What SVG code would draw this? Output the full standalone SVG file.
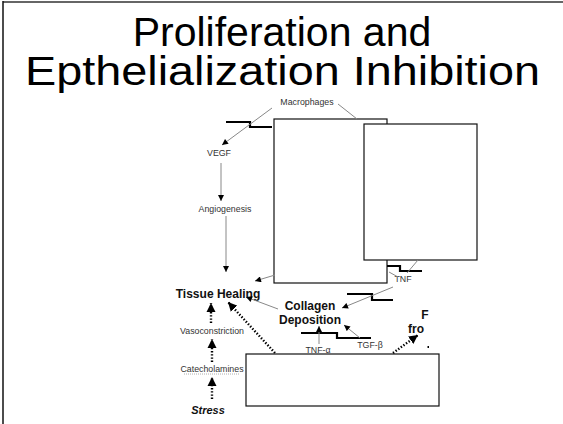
<svg xmlns="http://www.w3.org/2000/svg" width="563" height="424" viewBox="0 0 563 424">
<style>
.title{font-family:"Liberation Sans",Arial,sans-serif;font-size:41px;fill:#000}
.lbl{font-family:"Liberation Sans",Arial,sans-serif;font-size:8.8px;fill:#333;text-anchor:middle}
.big{font-family:"Liberation Sans",Arial,sans-serif;font-size:12px;font-weight:bold;fill:#111;text-anchor:middle}
.box{fill:#fff;stroke:#111;stroke-width:1.2}
.conn{stroke:#888;stroke-width:1;fill:none}
.step{stroke:#000;stroke-width:2.2;fill:none}
.dot{stroke:#000;stroke-width:2.4;stroke-dasharray:1.4 1.8;fill:none}
</style>
<defs>
<marker id="ah" viewBox="0 0 10 10" refX="10" refY="5" markerWidth="7" markerHeight="6" markerUnits="userSpaceOnUse" orient="auto">
<path d="M0,0 L10,5 L0,10 z" fill="#000"/>
</marker>
<marker id="ahb" viewBox="0 0 10 10" refX="10" refY="5" markerWidth="9" markerHeight="10" markerUnits="userSpaceOnUse" orient="auto">
<path d="M0,0 L10,5 L0,10 z" fill="#000"/>
</marker>
</defs>
<rect width="563" height="424" fill="#fff"/>
<g id="frame">
<line x1="3" y1="2" x2="563" y2="2" stroke="#666" stroke-width="2"/>
<line x1="3" y1="1" x2="3" y2="424" stroke="#111" stroke-width="1.5"/>
</g>
<g id="title">
<text class="title" x="282" y="46" text-anchor="middle">Proliferation and</text>
<text class="title" x="25" y="85" textLength="515" lengthAdjust="spacingAndGlyphs">Epthelialization Inhibition</text>
</g>
<g id="box1"><rect class="box" x="274" y="119" width="113" height="164"/></g>
<g id="box2"><rect class="box" x="364" y="124" width="113" height="136"/></g>
<g id="box3"><rect class="box" x="246" y="354" width="193" height="52"/></g>
<g id="macrophages"><text class="lbl" x="307" y="105">Macrophages</text></g>
<g id="vegf"><text class="lbl" x="219" y="156">VEGF</text></g>
<g id="angiogenesis"><text class="lbl" x="225" y="212">Angiogenesis</text></g>
<g id="tissue-healing"><text class="big" x="218" y="298">Tissue Healing</text></g>
<g id="collagen"><text class="big" x="310" y="310">Collagen</text><text class="big" x="310" y="324">Deposition</text></g>
<g id="tnf"><text class="lbl" x="403" y="282">TNF</text></g>
<g id="tnf-a"><text class="lbl" x="318" y="353">TNF-α</text></g>
<g id="tgf-b"><text class="lbl" x="370" y="348">TGF-β</text></g>
<g id="vasoconstriction"><text class="lbl" x="212" y="334">Vasoconstriction</text></g>
<g id="catecholamines"><text class="lbl" x="212" y="372">Catecholamines</text>
<line x1="184" y1="374" x2="240" y2="374" stroke="#999" stroke-width="0.8" stroke-dasharray="1 1"/></g>
<g id="stress"><text x="208" y="414" font-family="'Liberation Sans',Arial,sans-serif" font-size="11" font-weight="bold" font-style="italic" text-anchor="middle" fill="#111">Stress</text></g>
<g id="partial"><text class="big" x="425" y="319" text-anchor="start">F</text><text class="big" x="416" y="333" text-anchor="start">fro</text>
<rect x="427.5" y="346" width="1.5" height="2" fill="#000"/></g>
<g id="connectors">
<path class="step" d="M226,122 H250 V127 H272"/>
<path class="step" d="M387,266 H400 V271 H422"/>
<path class="step" d="M347,294 H372 V300 H393"/>
<path class="step" d="M301,333 H337 V338 H371"/>
<line class="conn" x1="272" y1="108" x2="222" y2="145" marker-end="url(#ah)"/>
<line class="conn" x1="338" y1="104" x2="357" y2="119"/>
<line class="conn" x1="221" y1="163" x2="221" y2="201" marker-end="url(#ah)"/>
<line class="conn" x1="226" y1="216" x2="226" y2="272" marker-end="url(#ah)"/>
<line class="conn" x1="275" y1="275" x2="255" y2="281" marker-end="url(#ah)"/>
<line class="conn" x1="278" y1="309" x2="246" y2="297" marker-end="url(#ah)"/>
<line class="conn" x1="389" y1="272" x2="398" y2="277"/>
<line class="conn" x1="418" y1="260" x2="407" y2="273"/>
<line class="conn" x1="393" y1="287" x2="342" y2="308" marker-end="url(#ah)"/>
<line class="conn" x1="319" y1="344" x2="319" y2="326" marker-end="url(#ah)"/>
<line class="conn" x1="360" y1="338" x2="344" y2="325" marker-end="url(#ah)"/>
<line class="dot" x1="275" y1="353" x2="228" y2="302" marker-end="url(#ahb)"/>
<line class="dot" x1="393" y1="353" x2="418" y2="335" marker-end="url(#ahb)"/>
<line class="dot" x1="211" y1="323" x2="211" y2="303" marker-end="url(#ahb)"/>
<line class="dot" x1="212" y1="362" x2="212" y2="339" marker-end="url(#ahb)"/>
<line class="dot" x1="212" y1="399" x2="212" y2="377" marker-end="url(#ahb)"/>
</g>
</svg>
